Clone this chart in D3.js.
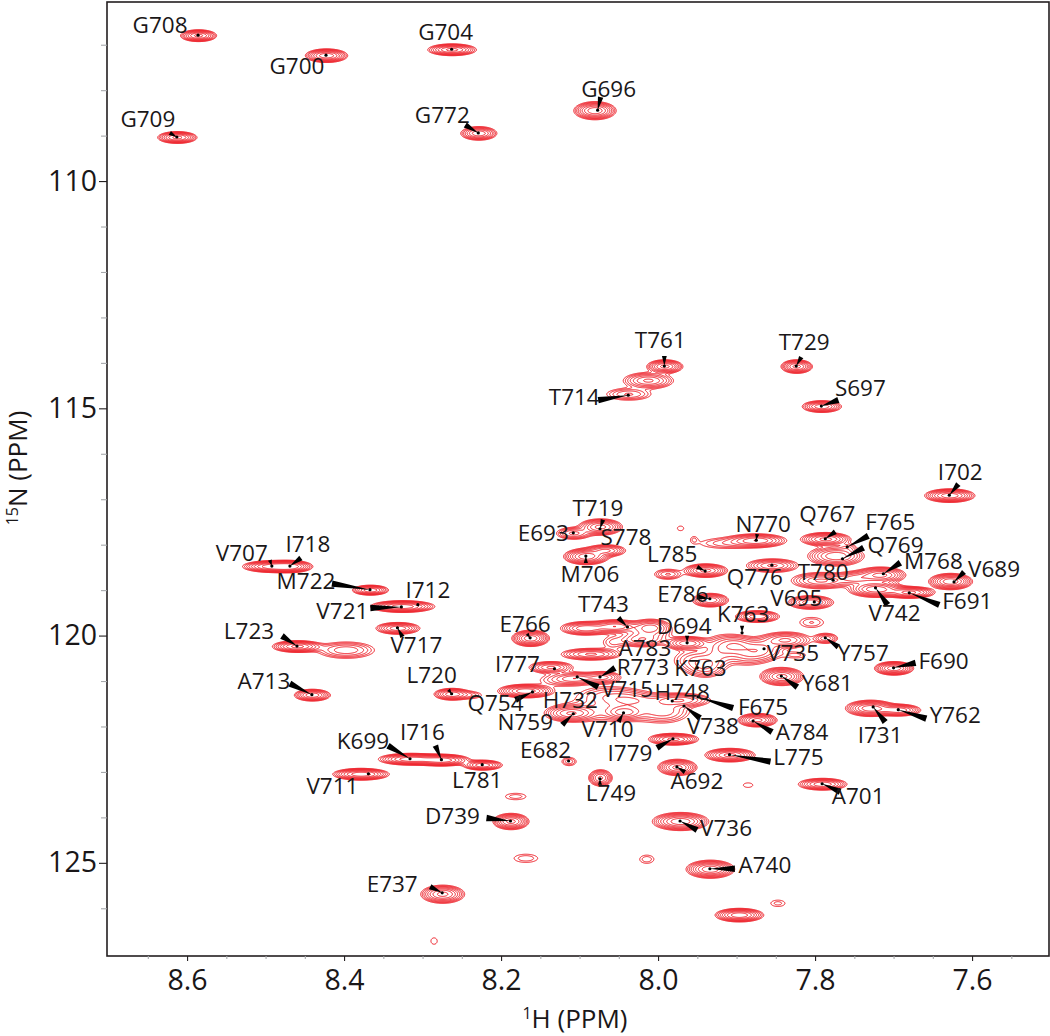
<!DOCTYPE html>
<html><head><meta charset="utf-8">
<script src="https://cdn.jsdelivr.net/npm/d3@7"></script>
<style>html,body{margin:0;padding:0;background:#fff;overflow:hidden}svg{display:block}text{font-family:"Open Sans",sans-serif;fill:#1a1718}</style>
</head><body><svg id="c" width="1050" height="1036"></svg>
<script>
// Assigned peaks: name, 1H shift, 15N shift
const names=["G708","G700","G704","G696","G709","G772","T761","T714","T729","S697","I702","T719","E693","S778","M706","L785","E786","K763","E766","T743","D694","A783","I777","R773","V715","K763","H748","F675","V738","V710","H732","N759","Q754","I779","A784","L775","E682","L749","A692","A701","V736","A740","D739","E737","K699","I716","L781","V711","A713","L720","L723","V717","I712","V721","M722","V707","I718","N770","Q767","F765","Q769","Q776","T780","M768","V689","F691","V742","V695","Y757","V735","Y681","F690","I731","Y762"];
const shiftH=[8.586,8.423,8.263,8.077,8.613,8.229,7.992,8.038,7.824,7.792,7.629,8.074,8.108,8.074,8.092,7.940,7.934,7.893,8.163,8.039,7.963,8.013,8.132,8.074,8.103,7.950,7.982,7.949,7.967,8.044,8.108,8.108,8.160,7.981,7.879,7.909,8.114,8.074,7.976,7.791,7.972,7.934,8.188,8.275,8.316,8.276,8.224,8.369,8.441,8.263,8.460,8.332,8.306,8.327,8.367,8.492,8.469,7.875,7.787,7.759,7.765,7.855,7.777,7.713,7.623,7.680,7.723,7.801,7.787,7.865,7.843,7.700,7.726,7.694];
const shiftN=[106.79,107.23,107.10,108.44,109.03,108.94,114.07,114.71,114.07,114.95,116.91,117.65,117.74,117.65,118.25,118.58,119.19,119.94,120.05,119.81,120.16,120.16,120.73,120.91,120.91,120.71,121.44,121.35,121.55,121.70,121.72,121.72,121.24,122.27,121.88,122.62,122.76,123.15,122.89,123.26,124.08,125.13,124.08,125.66,122.71,122.73,122.84,123.04,121.30,121.28,120.23,119.83,119.32,119.37,118.99,118.47,118.47,117.90,117.87,118.05,118.31,118.45,118.78,118.64,118.82,119.06,118.95,119.26,120.05,120.29,120.89,120.71,121.57,121.63];
// Label placement relative to the peak, in screen pixels (null tip = no leader)
const labelDx=[-38,-29,-6,11,-29,-36,-4,-54,8,39,11,-2,-30,26,4,-33,-27,1,-5,-24,-3,-3,-37,43,50,3,10,65,29,-16,-3,-48,-37,-43,49,69,-23,11,20,36,46,55,-58,-50,-47,-19,-5,-36,-48,-20,-48,19,10,-59,-64,-30,18,7,2,43,53,-17,-10,50,40,58,19,-18,38,29,46,50,7,57];
const labelDy=[-10,11,-17,-21,-18,-18,-26,2,-24,-18,-23,-21,0,8,18,-17,-5,-19,-14,-23,-17,5,-5,-10,12,0,-9,10,20,16,-14,8,11,14,11,2,-11,14,14,12,7,-4,-5,-9,-18,-28,15,12,-14,-19,-15,17,-15,4,-9,-13,-22,-16,-25,-25,-14,12,-8,-13,-13,8,25,-4,15,4,7,-7,28,5];
const tipDx=[null,null,null,3,-7,-13,0,-30,5,17,9,3,null,null,0,-8,-13,0,-3,-9,0,null,null,15,21,null,null,35,16,-5,null,-11,-17,-16,19,41,null,0,8,18,17,25,-24,-12,-22,-6,null,null,-22,-3,-15,5,null,-31,-38,-2,11,1,10,21,21,null,null,17,10,30,12,null,13,null,16,22,12,28];
const tipDy=[null,null,null,-13,-4,-8,-10,5,-9,-6,-11,-9,null,null,7,-4,-2,-7,-4,-9,-7,null,null,-9,10,null,null,11,12,9,null,11,8,9,11,7,null,6,5,8,9,0,-3,-6,-13,-14,null,null,-11,-4,-10,9,null,1,-6,-6,-8,-6,-7,-11,-11,null,null,-11,-10,12,17,null,9,null,11,-5,15,9];
// Peaks that carry no dot of their own are listed here
const hiddenDots=["S778","H732"];

// Contoured resonances: 1H, 15N, half extents of the lowest contour, height above that contour
const peakH=[8.586,8.423,8.263,8.081,8.613,8.229,7.992,8.013,8.038,7.824,7.792,7.629,8.108,8.074,8.092,8.067,7.940,7.988,7.934,7.874,8.163,8.093,8.055,8.010,7.963,8.023,8.086,8.137,8.105,8.071,7.972,8.169,8.112,8.044,8.074,8.013,8.061,7.981,7.874,7.909,8.114,8.074,7.976,7.791,7.972,7.934,7.897,7.848,8.188,8.275,8.286,8.169,8.015,8.182,7.886,8.316,8.276,8.224,8.379,8.441,8.263,8.239,8.460,8.398,8.332,8.326,8.367,8.492,8.469,7.875,7.914,7.787,7.774,7.759,7.855,7.793,7.749,7.717,7.628,7.680,7.723,7.806,7.805,7.787,7.838,7.870,7.902,7.921,7.940,7.843,7.700,7.730,7.694,7.972,7.955,7.940,7.959,8.125,8.036,7.991,8.016,8.058,7.889,7.825];
const peakN=[106.79,107.23,107.10,108.44,109.03,108.94,114.07,114.38,114.68,114.07,114.95,116.91,117.74,117.60,118.25,118.12,118.56,118.64,119.21,119.57,120.05,119.83,119.79,119.81,120.16,120.09,120.40,120.69,120.93,120.91,121.41,121.21,121.70,121.68,121.63,121.59,121.30,122.27,121.85,122.62,122.76,123.12,122.89,123.26,124.08,125.13,126.14,125.88,124.08,125.68,126.71,124.89,124.91,123.53,123.28,122.71,122.73,122.84,123.04,121.30,121.28,121.30,120.23,120.31,119.83,119.35,118.99,118.47,118.47,117.90,117.96,117.87,118.24,118.05,118.45,118.78,118.73,118.66,118.80,119.04,118.97,119.26,119.70,120.05,120.09,120.31,120.20,120.31,120.71,120.89,120.71,121.59,121.63,117.63,117.87,120.58,120.53,120.97,121.41,121.67,119.98,120.14,120.42,120.42];
const peakWidthH=[.023,.027,.031,.027,.025,.023,.023,.032,.028,.020,.025,.032,.022,.028,.029,.025,.028,.017,.023,.028,.024,.032,.031,.025,.028,.025,.038,.028,.028,.023,.038,.036,.032,.023,.045,.038,.038,.032,.025,.032,.009,.015,.025,.031,.036,.031,.031,.009,.023,.028,.004,.015,.009,.013,.006,.041,.036,.025,.036,.023,.023,.013,.032,.036,.028,.041,.023,.038,.028,.038,.032,.032,.036,.008,.033,.038,.025,.032,.028,.032,.036,.029,.015,.015,.032,.028,.025,.022,.019,.028,.025,.032,.028,.004,.003,.022,.020,.025,.030,.025,.030,.012,.020,.012];
const peakWidthN=[.13,.15,.13,.20,.13,.15,.15,.18,.13,.15,.13,.15,.13,.18,.18,.13,.15,.11,.15,.13,.18,.15,.15,.18,.15,.13,.13,.13,.13,.13,.15,.15,.18,.15,.22,.24,.18,.13,.15,.15,.09,.18,.18,.13,.20,.20,.15,.07,.18,.20,.07,.09,.09,.07,.05,.13,.13,.11,.13,.13,.13,.07,.13,.18,.13,.13,.11,.13,.13,.15,.11,.15,.22,.07,.15,.18,.15,.18,.18,.13,.18,.15,.11,.11,.18,.26,.22,.30,.18,.20,.15,.18,.13,.05,.05,.20,.20,.12,.14,.20,.20,.12,.20,.06];
const peakHeight=[12,14,12,14,12,10,12,8,4,12,10,14,6,12,14,8,12,4,10,10,14,10,10,8,10,5,8,8,6,6,7,14,10,7,2.5,2.5,3,12,12,12,2.5,8,12,10,14,14,14,1.6,12,12,1.3,1.8,1.8,1.7,1.3,14,14,10,14,10,10,2.2,12,5,10,14,10,14,12,10,2.4,12,10,2,8,8,6,12,14,12,14,10,2,5,8,6,6,4,3,12,14,14,10,1.3,1.3,3,2.5,2.5,3,3,4,2,3,1.6];

const xTickValues=[8.6,8.4,8.2,8.0,7.8,7.6];
const xTickLabels=["8.6","8.4","8.2","8.0","7.8","7.6"];
const yTickValues=[110,115,120,125];
const xMinorValues=d3.range(8.65,7.5,-0.05);
const yMinorValues=d3.range(107,127);
const contourLevels=[1,1.4,1.95,2.7,3.8,5.3,7.4,10.4];

const frame={l:107,r:1049,t:2,b:956};
const x=d3.scaleLinear().domain([8.702,7.502]).range([frame.l,frame.r]);
const y=d3.scaleLinear().domain([106.06,127.05]).range([frame.t,frame.b]);
const svg=d3.select("#c");

// Spectrum surface sampled on a pixel grid, in ppm, then contoured
const gw=frame.r-frame.l+1, gh=frame.b-frame.t+1, field=new Float64Array(gw*gh);
peakH.forEach((h,i)=>{
  const A=peakHeight[i], k=Math.sqrt(2*Math.log(Math.max(A,1.05)));
  const sx=peakWidthH[i]/k, sy=peakWidthN[i]/k;
  const x0=Math.max(0,Math.floor(x(h+sx*4.5))-frame.l), x1=Math.min(gw-1,Math.ceil(x(h-sx*4.5))-frame.l);
  const y0=Math.max(0,Math.floor(y(peakN[i]-sy*4.5))-frame.t), y1=Math.min(gh-1,Math.ceil(y(peakN[i]+sy*4.5))-frame.t);
  for(let r=y0;r<=y1;r++){const dy=(y.invert(r+frame.t)-peakN[i])/sy;
    for(let c=x0;c<=x1;c++){const dx=(x.invert(c+frame.l)-h)/sx;
      field[r*gw+c]+=A*Math.exp(-0.5*(dx*dx+dy*dy));}}
});
const contours=d3.contours().size([gw,gh]).smooth(true).thresholds(contourLevels)(field);
svg.append("g").attr("transform",`translate(${frame.l},${frame.t})`)
  .selectAll("path").data(contours).join("path")
  .attr("d",d3.geoPath()).attr("fill","none").attr("stroke","#ee1c25").attr("stroke-width",1);

// Leaders
const wedge=d3.line();
const lg=svg.append("g");
names.forEach((n,i)=>{
  if(tipDx[i]===null)return;
  const px=x(shiftH[i]),py=y(shiftN[i]),tx=px+tipDx[i],ty=py+tipDy[i];
  const len=Math.hypot(tipDx[i],tipDy[i]),w=Math.min(3.2,1.4+len/10),nx=-tipDy[i]/len*w,ny=tipDx[i]/len*w;
  lg.append("path").attr("d",wedge([[px,py],[tx+nx,ty+ny],[tx-nx,ty-ny]])+"Z").attr("fill","#000");
});
// Dots
svg.append("g").selectAll("circle").data(names.map((n,i)=>i).filter(i=>!hiddenDots.includes(names[i])))
  .join("circle").attr("cx",i=>x(shiftH[i])).attr("cy",i=>y(shiftN[i])).attr("r",1.6).attr("fill","#000");
// Labels
svg.append("g").selectAll("text").data(names).join("text")
  .attr("x",(n,i)=>x(shiftH[i])+labelDx[i]).attr("y",(n,i)=>y(shiftN[i])+labelDy[i]+8)
  .attr("text-anchor","middle").attr("font-size",22.5).text(n=>n);

// Frame
svg.append("rect").attr("x",frame.l).attr("y",frame.t).attr("width",frame.r-frame.l).attr("height",frame.b-frame.t)
  .attr("fill","none").attr("stroke","#231f20").attr("stroke-width",1.6);
// Axes
const xMajor=d3.axisBottom(x).tickValues(xTickValues).tickFormat((d,i)=>xTickLabels[i]).tickSize(5).tickPadding(9);
const xMinor=d3.axisBottom(x).tickValues(xMinorValues.filter(v=>!xTickValues.some(t=>Math.abs(t-v)<1e-6))).tickFormat("").tickSize(3);
const yMajor=d3.axisLeft(y).tickValues(yTickValues).tickSize(8).tickPadding(2);
const yMinor=d3.axisLeft(y).tickValues(yMinorValues.filter(v=>!yTickValues.includes(v))).tickFormat("").tickSize(6);
for(const [ax,sel] of [[xMinor,"x"],[xMajor,"x"],[yMinor,"y"],[yMajor,"y"]]){
  const g=svg.append("g").attr("transform",sel==="x"?`translate(0,${frame.b})`:`translate(${frame.l},0)`).call(ax);
  g.select(".domain").remove();
  g.selectAll("line").attr("stroke",(ax===xMinor||ax===yMinor)?"#a7a9ac":"#231f20").attr("stroke-width",1.1);
  g.selectAll("text").attr("font-size",28.5).attr("font-family",'"Open Sans",sans-serif').attr("fill","#231f20");
}
// Axis titles
const xt=svg.append("text").attr("x",575).attr("y",1028).attr("text-anchor","middle").attr("font-size",26);
xt.append("tspan").attr("font-size",16).attr("dy",-9).text("1");
xt.append("tspan").attr("dy",9).text("H (PPM)");
const yt=svg.append("text").attr("transform","translate(27,468) rotate(-90)").attr("text-anchor","middle").attr("font-size",26);
yt.append("tspan").attr("font-size",16).attr("dy",-9).text("15");
yt.append("tspan").attr("dy",9).text("N (PPM)");
</script></body></html>
